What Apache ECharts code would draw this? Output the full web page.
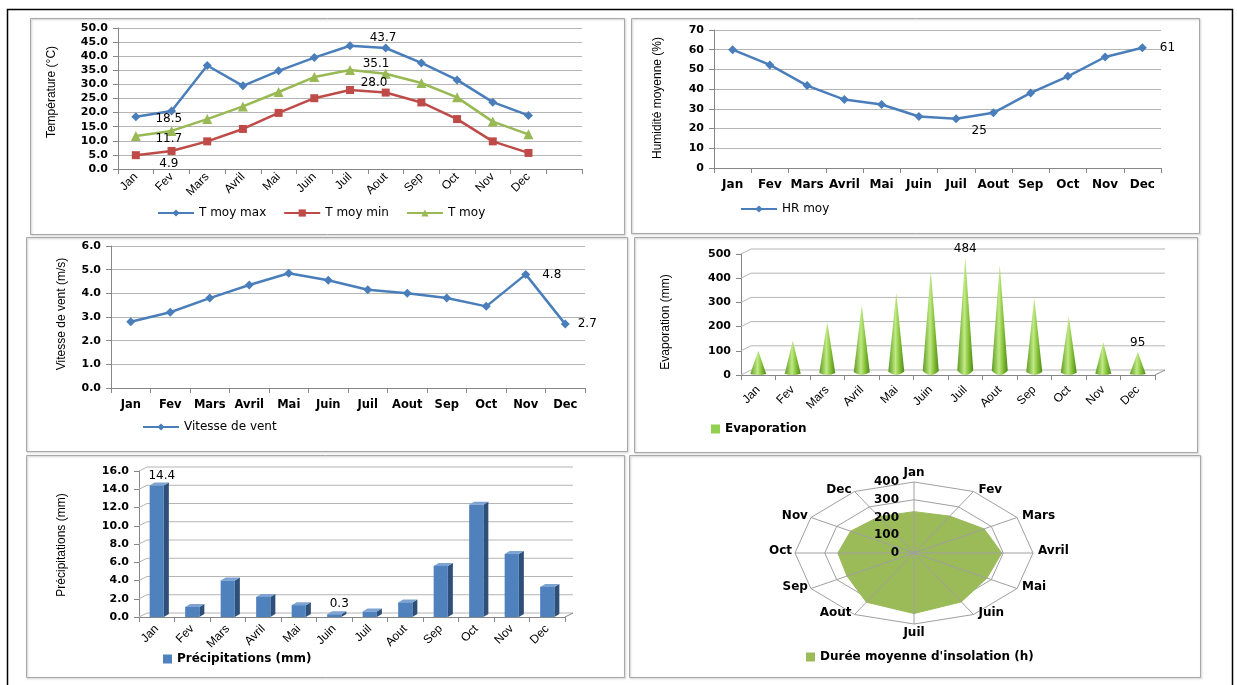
<!DOCTYPE html>
<html>
<head>
<meta charset="utf-8">
<script src="https://cdn.jsdelivr.net/npm/echarts@6/dist/echarts.min.js"></script>
<style>
  html, body { margin: 0; padding: 0; background: #fff; }
  #c { width: 1237px; height: 685px; }
</style>
</head>
<body>
<div id="c"></div>
<script>
// Monthly climate data
const months = ['Jan', 'Fev', 'Mars', 'Avril', 'Mai', 'Juin', 'Juil', 'Aout', 'Sep', 'Oct', 'Nov', 'Dec'];
const tempMax = [18.5, 20.6, 36.7, 29.5, 34.8, 39.5, 43.7, 42.9, 37.6, 31.6, 23.7, 19.0];
const tempMin = [4.9, 6.4, 9.8, 14.2, 19.9, 25.1, 28.0, 27.1, 23.6, 17.7, 9.8, 5.7];
const tempMoy = [11.7, 13.5, 17.7, 22.2, 27.3, 32.6, 35.1, 33.8, 30.5, 25.4, 16.8, 12.3];
const humidity = [60, 52.3, 41.8, 34.7, 32.2, 26.1, 25, 28, 38.1, 46.5, 56.3, 61];
const wind = [2.8, 3.2, 3.8, 4.35, 4.85, 4.55, 4.15, 4.0, 3.8, 3.45, 4.8, 2.7];
const evaporation = [100, 142, 218, 288, 340, 430, 484, 455, 318, 242, 135, 95];
const precipitation = [14.4, 1.1, 4.0, 2.2, 1.3, 0.3, 0.6, 1.6, 5.6, 12.3, 6.9, 3.3];
const insolation = [233, 240, 272, 295, 283, 318, 341, 320, 260, 256, 246, 236];

// Axis tick values
const tempTicks = [0, 5, 10, 15, 20, 25, 30, 35, 40, 45, 50];
const humTicks = [0, 10, 20, 30, 40, 50, 60, 70];
const windTicks = [0, 1, 2, 3, 4, 5, 6];
const evapTicks = [0, 100, 200, 300, 400, 500];
const precipTicks = [0, 2, 4, 6, 8, 10, 12, 14, 16];
const radarTicks = [0, 100, 200, 300, 400];

const BLUE = '#4A7EBB', RED = '#BE4B48', GREEN = '#98B954';
const AXIS = '#868686', GRID = '#b5b5b5';
const SANS = 'DejaVu Sans', ARIAL = 'Liberation Sans';

const chart = echarts.init(document.getElementById('c'));

function tickRange(t) {
  return { min: t[0], max: t[t.length - 1], interval: t[1] - t[0] };
}

function valueAxis(grid, ticks, fmt, opts) {
  return Object.assign({
    type: 'value', gridIndex: grid,
    axisLine: { show: true, lineStyle: { color: AXIS } },
    axisTick: { show: true, length: 5, lineStyle: { color: AXIS } },
    axisLabel: { formatter: fmt, fontFamily: SANS, fontWeight: 'bold', fontSize: 11, color: '#000', margin: 10 },
    splitLine: { show: true, lineStyle: { color: GRID } }
  }, tickRange(ticks), opts || {});
}

function catAxis(grid, data, label) {
  return {
    type: 'category', gridIndex: grid, data: data, boundaryGap: true,
    axisLine: { show: true, lineStyle: { color: AXIS } },
    axisTick: { show: true, length: 5, lineStyle: { color: AXIS } },
    axisLabel: Object.assign({ interval: 0, hideOverlap: false, color: '#000' }, label),
    splitLine: { show: false }
  };
}

// Picks out data points carrying a value label
function labelled(values, marks, fmt) {
  return values.map((v, i) => marks[i]
    ? { value: v, label: { show: true, position: 'inside', offset: marks[i], formatter: fmt } }
    : v);
}

const oneDec = p => Number(p.value).toFixed(1);
const plain = p => String(p.value);
const lblStyle = { fontFamily: SANS, fontSize: 12, color: '#000' };

// 3D back wall gridlines and floor for the two column charts
function wallSeries(axisIdx, ticks, depth) {
  return {
    type: 'custom', xAxisIndex: axisIdx, yAxisIndex: axisIdx, silent: true, z: 1,
    data: ticks.map(v => [0, v]),
    renderItem(params, api) {
      const cs = params.coordSys;
      const y = api.coord([0, api.value(1)])[1];
      const x0 = cs.x, x1 = cs.x + cs.width;
      const ls = { stroke: GRID, lineWidth: 1 };
      const kids = [
        { type: 'line', shape: { x1: x0, y1: y, x2: x0 + depth[0], y2: y - depth[1] }, style: ls },
        { type: 'line', shape: { x1: x0 + depth[0], y1: y - depth[1], x2: x1 + depth[0], y2: y - depth[1] }, style: ls }
      ];
      if (api.value(1) === 0) {
        kids.push({ type: 'line', shape: { x1: x1, y1: y, x2: x1 + depth[0], y2: y - depth[1] }, style: { stroke: AXIS, lineWidth: 1 } });
      }
      return { type: 'group', children: kids };
    }
  };
}

// Radar drawn on a stretched cartesian frame
function radarPoint(api, r, i) {
  const a = i / months.length * Math.PI * 2;
  return api.coord([r * Math.sin(a), r * Math.cos(a)]);
}
const radarMax = radarTicks[radarTicks.length - 1];

const panels = [
  [30, 18, 594, 216], [631, 18, 568, 215],
  [26, 237, 601, 214], [634, 237, 563, 215],
  [26, 455, 598, 222], [629, 455, 571, 222]
];

const titles = [
  ['Température (°C)', 52, 92],
  ['Humidité moyenne (%)', 658, 98],
  ['Vitesse de vent (m/s)', 62, 314],
  ['Evaporation (mm)', 666, 322],
  ['Précipitations (mm)', 62, 545]
];

const graphic = [];
panels.forEach(p => graphic.push({
  type: 'rect', shape: { x: p[0] + 0.5, y: p[1] + 0.5, width: p[2], height: p[3] },
  style: { fill: 'none', stroke: '#a8a8a8', lineWidth: 1, shadowColor: 'rgba(0,0,0,0.25)', shadowBlur: 2, shadowOffsetX: 1, shadowOffsetY: 1 },
  silent: true
}));
graphic.push({
  type: 'polyline', shape: { points: [[7.5, 690], [7.5, 9.5], [1232.5, 9.5], [1232.5, 690]] },
  style: { stroke: '#000', lineWidth: 1.5, fill: 'none' }, silent: true
});
titles.forEach(t => graphic.push({
  type: 'text', x: t[1], y: t[2], rotation: Math.PI / 2, silent: true,
  style: { text: t[0], fontFamily: 'Liberation Sans Narrow, Liberation Sans', fontSize: 12, fill: '#000', align: 'center', verticalAlign: 'middle' }
}));

const rotLabel = { rotate: 45, fontFamily: ARIAL, fontSize: 12, margin: 6 };
const flatLabel = { fontFamily: SANS, fontWeight: 'bold', fontSize: 12, margin: 11 };
const legendText = { fontFamily: SANS, fontSize: 12, color: '#000' };
const legendBold = { fontFamily: SANS, fontWeight: 'bold', fontSize: 12, color: '#000' };

const option = {
  animation: false,
  backgroundColor: '#fff',
  graphic: graphic,
  grid: [
    { left: 118, top: 28, width: 464, height: 141 },
    { left: 714, top: 30, width: 447, height: 138 },
    { left: 111, top: 246, width: 474, height: 142 },
    { left: 741, top: 254, width: 414, height: 121 },
    { left: 139, top: 471, width: 426, height: 146 },
    { left: 795, top: 482, width: 238, height: 142 }
  ],
  xAxis: [
    catAxis(0, months.concat(['']), rotLabel),
    catAxis(1, months, flatLabel),
    catAxis(2, months, Object.assign({}, flatLabel, { fontSize: 11.5 })),
    catAxis(3, months, Object.assign({}, rotLabel, { margin: 13 })),
    catAxis(4, months, Object.assign({}, rotLabel, { margin: 10 })),
    { type: 'value', gridIndex: 5, min: -radarMax, max: radarMax, show: false }
  ],
  yAxis: [
    valueAxis(0, tempTicks, v => v.toFixed(1)),
    valueAxis(1, humTicks, v => String(v)),
    valueAxis(2, windTicks, v => v.toFixed(1)),
    valueAxis(3, evapTicks, v => String(v), { splitLine: { show: false } }),
    valueAxis(4, precipTicks, v => v.toFixed(1), { splitLine: { show: false } }),
    { type: 'value', gridIndex: 5, min: -radarMax, max: radarMax, show: false }
  ],
  legend: [
    { data: ['T moy max', 'T moy min', 'T moy'], left: 152, top: 202, itemWidth: 36, itemHeight: 9, itemGap: 17, textStyle: legendText },
    { data: ['HR moy'], left: 735, top: 198, itemWidth: 36, itemHeight: 9, textStyle: legendText },
    { data: ['Vitesse de vent'], left: 137, top: 416, itemWidth: 36, itemHeight: 9, textStyle: legendText },
    { data: [{ name: 'Evaporation', icon: 'rect', itemStyle: { color: '#92D050' } }], left: 706, top: 418, itemWidth: 9, itemHeight: 9, itemGap: 4, textStyle: legendBold },
    { data: [{ name: 'Précipitations (mm)', icon: 'rect', itemStyle: { color: '#4F81BD' } }], left: 158, top: 648, itemWidth: 9, itemHeight: 9, textStyle: legendBold },
    { data: [{ name: "Durée moyenne d'insolation (h)", icon: 'rect', itemStyle: { color: '#9BBB59' } }], left: 801, top: 646, itemWidth: 9, itemHeight: 9, textStyle: legendBold }
  ],
  series: [
    // Temperatures
    { type: 'line', name: 'T moy max', xAxisIndex: 0, yAxisIndex: 0, symbol: 'diamond', symbolSize: 9,
      data: labelled(tempMax, { 0: [33, 2], 6: [33, -8] }, oneDec), label: lblStyle,
      lineStyle: { width: 2.5, color: BLUE }, itemStyle: { color: BLUE } },
    { type: 'line', name: 'T moy min', xAxisIndex: 0, yAxisIndex: 0, symbol: 'rect', symbolSize: 8,
      data: labelled(tempMin, { 0: [33, 9], 6: [24, -7] }, oneDec), label: lblStyle,
      lineStyle: { width: 2.5, color: RED }, itemStyle: { color: RED } },
    { type: 'line', name: 'T moy', xAxisIndex: 0, yAxisIndex: 0, symbol: 'triangle', symbolSize: 10,
      data: labelled(tempMoy, { 0: [33, 3], 6: [26, -6] }, oneDec), label: lblStyle,
      lineStyle: { width: 2.5, color: GREEN }, itemStyle: { color: GREEN } },
    // Relative humidity
    { type: 'line', name: 'HR moy', xAxisIndex: 1, yAxisIndex: 1, symbol: 'diamond', symbolSize: 9,
      data: labelled(humidity, { 6: [23, 12], 11: [25, 0] }, plain), label: lblStyle,
      lineStyle: { width: 2.5, color: BLUE }, itemStyle: { color: BLUE } },
    // Wind speed
    { type: 'line', name: 'Vitesse de vent', xAxisIndex: 2, yAxisIndex: 2, symbol: 'diamond', symbolSize: 9,
      data: labelled(wind, { 10: [26, 0], 11: [22, 0] }, oneDec), label: lblStyle,
      lineStyle: { width: 2.5, color: BLUE }, itemStyle: { color: BLUE } },
    // Evaporation cones
    wallSeries(3, evapTicks, [10, 5]),
    { type: 'pictorialBar', name: 'Evaporation', xAxisIndex: 3, yAxisIndex: 3, z: 3,
      symbol: 'path://M50,0 L100,100 Q50,108 0,100 Z', symbolSize: [16, '100%'],
      data: evaporation.map((v, i) => (i === 6 || i === 11)
        ? { value: v, label: { show: true, position: 'top', distance: 3, fontFamily: SANS, fontSize: 12, color: '#000' } }
        : v),
      itemStyle: { color: new echarts.graphic.LinearGradient(0, 0, 1, 0, [
        { offset: 0, color: '#5c9a20' }, { offset: 0.45, color: '#c0ea84' },
        { offset: 0.7, color: '#86c23a' }, { offset: 1, color: '#4c8814' }]) } },
    // Precipitation columns
    wallSeries(4, precipTicks, [8, 4]),
    { type: 'custom', name: 'Précipitations (mm)', xAxisIndex: 4, yAxisIndex: 4, z: 3,
      itemStyle: { color: '#4F81BD' },
      data: precipitation.map((v, i) => [i, v]),
      encode: { x: 0, y: 1 },
      renderItem(params, api) {
        const i = api.value(0), v = api.value(1);
        const top = api.coord([i, v]), base = api.coord([i, 0]);
        const w = api.size([1, 0])[0] * 0.4;
        const x = top[0] - w / 2, dx = 5, dy = 3;
        const kids = [
          { type: 'polygon', shape: { points: [[x + w, top[1]], [x + w + dx, top[1] - dy], [x + w + dx, base[1] - dy], [x + w, base[1]]] }, style: { fill: '#2d4f78' } },
          { type: 'polygon', shape: { points: [[x, top[1]], [x + dx, top[1] - dy], [x + w + dx, top[1] - dy], [x + w, top[1]]] }, style: { fill: '#7ea4d4' } },
          { type: 'rect', shape: { x: x, y: top[1], width: w, height: base[1] - top[1] }, style: { fill: '#4F81BD' } }
        ];
        if (i === 0 || i === 5) {
          kids.push({ type: 'text', style: { text: v.toFixed(1), x: top[0] + 5, y: top[1] - dy - 1, align: 'center', verticalAlign: 'bottom',
            fontFamily: SANS, fontSize: 12, fill: '#000' } });
        }
        return { type: 'group', children: kids };
      } },
    // Radar rings
    { type: 'custom', xAxisIndex: 5, yAxisIndex: 5, silent: true, z: 1,
      data: radarTicks.map(v => [v, 0]),
      renderItem(params, api) {
        const r = api.value(0);
        if (r <= 0) return null;
        return { type: 'polygon', shape: { points: months.map((m, i) => radarPoint(api, r, i)) },
          style: { fill: 'none', stroke: '#a0a0a0', lineWidth: 1 } };
      } },
    // Sunshine polygon
    { type: 'custom', name: "Durée moyenne d'insolation (h)", xAxisIndex: 5, yAxisIndex: 5, z: 2,
      itemStyle: { color: '#9BBB59' },
      data: insolation.map((v, i) => [i, v]),
      encode: { x: 0, y: 1 },
      renderItem(params, api) {
        if (params.dataIndexInside !== 0) return null;
        const pts = [];
        for (let j = 0; j < params.dataInsideLength; j++) {
          pts.push(radarPoint(api, api.value(1, j), api.value(0, j)));
        }
        return { type: 'polygon', shape: { points: pts }, style: { fill: '#9BBB59', stroke: '#9BBB59', lineWidth: 1 } };
      } },
    // Radar spokes and month names
    { type: 'custom', xAxisIndex: 5, yAxisIndex: 5, silent: true, z: 4,
      data: months.map((m, i) => [i, 0]),
      renderItem(params, api) {
        const i = api.value(0);
        const a = i / months.length * Math.PI * 2;
        const c = api.coord([0, 0]);
        const p = radarPoint(api, radarMax, i);
        const s = Math.sin(a), co = Math.cos(a);
        const align = Math.abs(s) < 0.1 ? 'center' : (s > 0 ? 'left' : 'right');
        const valign = co > 0.9 ? 'bottom' : (co < -0.9 ? 'top' : 'middle');
        const ox = Math.abs(s) < 0.1 ? 0 : (s > 0 ? 5 : -3);
        const oy = co > 0.9 ? -3 : (co < -0.9 ? 3 : -2);
        return { type: 'group', children: [
          { type: 'line', shape: { x1: c[0], y1: c[1], x2: p[0], y2: p[1] }, style: { stroke: '#a0a0a0', lineWidth: 1 } },
          { type: 'text', style: { text: months[i], x: p[0] + ox, y: p[1] + oy, align: align, verticalAlign: valign,
            fontFamily: SANS, fontWeight: 'bold', fontSize: 12, fill: '#000' } }
        ] };
      } },
    // Radar value labels, drawn above the fill
    { type: 'custom', xAxisIndex: 5, yAxisIndex: 5, silent: true, z: 5,
      data: radarTicks.map(v => [v, 0]),
      renderItem(params, api) {
        const r = api.value(0);
        const c = api.coord([0, 0]);
        const p = radarPoint(api, r, 0);
        return { type: 'text', style: { text: String(r), x: c[0] - 15, y: p[1], align: 'right', verticalAlign: 'middle',
          fontFamily: SANS, fontWeight: 'bold', fontSize: 12, fill: '#000' } };
      } }
  ]
};

chart.setOption(option);
</script>
</body>
</html>
